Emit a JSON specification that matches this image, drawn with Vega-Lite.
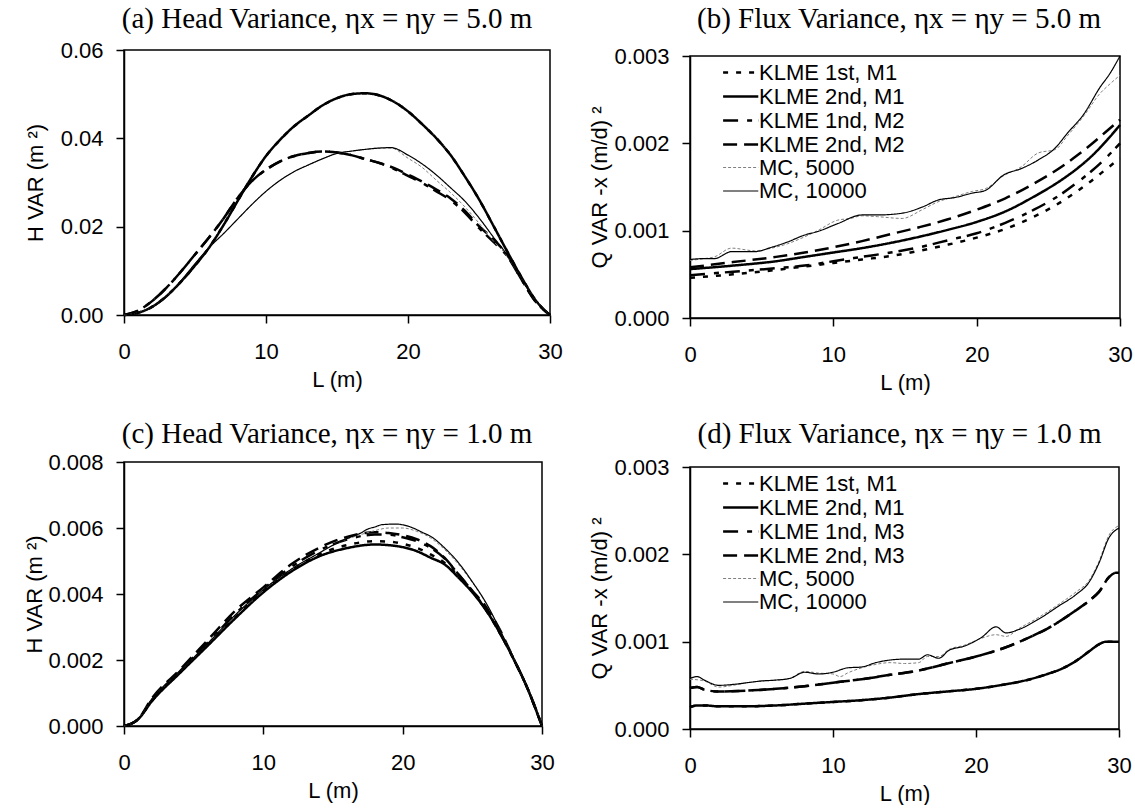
{
"$schema": "https://vega.github.io/schema/vega-lite/v6.json",
"padding": {"top": 4, "left": 23, "right": 0, "bottom": 0},
"spacing": 25,
"resolve": {"scale": {"x": "independent", "y": "independent", "color": "independent", "strokeDash": "independent", "strokeWidth": "independent"}, "legend": {"color": "independent", "strokeDash": "independent", "strokeWidth": "independent"}},
"config": {
  "view": {"stroke": "black", "strokeWidth": 1.5},
  "axis": {"domainColor": "black", "domainWidth": 1.5, "tickColor": "black", "tickWidth": 1.5, "tickSize": 8, "labelFont": "Liberation Sans", "labelFontSize": 22, "labelColor": "black", "titleFont": "Liberation Sans", "titleFontSize": 22, "titleFontWeight": "normal", "titleColor": "black", "grid": false, "labelFlush": false, "labelOverlap": false},
  "axisX": {"labelPadding": 18, "titlePadding": 7},
  "axisY": {"labelPadding": 13, "titlePadding": 10},
  "title": {"font": "Liberation Serif", "fontSize": 29, "fontWeight": "normal", "color": "black", "anchor": "middle", "baseline": "alphabetic"},
  "legend": {"orient": "none", "legendX": 36, "legendY": 4, "labelFont": "Liberation Sans", "labelFontSize": 22, "labelColor": "black", "labelOffset": 8, "rowPadding": -1, "padding": 0, "labelLimit": 400}
},
"datasets": {
"blank": [{"k": ""}],
"a": [
{"L":0,"v":0,"s":"KLME 1st, M1"},{"L":1,"v":0.0005,"s":"KLME 1st, M1"},{"L":2,"v":0.0019,"s":"KLME 1st, M1"},{"L":3,"v":0.0043,"s":"KLME 1st, M1"},{"L":4,"v":0.0075,"s":"KLME 1st, M1"},{"L":5,"v":0.0112,"s":"KLME 1st, M1"},{"L":6,"v":0.0153,"s":"KLME 1st, M1"},{"L":7,"v":0.0203,"s":"KLME 1st, M1"},{"L":8,"v":0.0258,"s":"KLME 1st, M1"},{"L":9,"v":0.0312,"s":"KLME 1st, M1"},{"L":10,"v":0.036,"s":"KLME 1st, M1"},{"L":11,"v":0.0397,"s":"KLME 1st, M1"},{"L":12,"v":0.0428,"s":"KLME 1st, M1"},{"L":13,"v":0.0452,"s":"KLME 1st, M1"},{"L":14,"v":0.0475,"s":"KLME 1st, M1"},{"L":15,"v":0.0491,"s":"KLME 1st, M1"},{"L":16,"v":0.05,"s":"KLME 1st, M1"},{"L":17,"v":0.0502,"s":"KLME 1st, M1"},{"L":18,"v":0.0497,"s":"KLME 1st, M1"},{"L":19,"v":0.0483,"s":"KLME 1st, M1"},{"L":20,"v":0.0461,"s":"KLME 1st, M1"},{"L":21,"v":0.0432,"s":"KLME 1st, M1"},{"L":22,"v":0.04,"s":"KLME 1st, M1"},{"L":23,"v":0.0362,"s":"KLME 1st, M1"},{"L":24,"v":0.0314,"s":"KLME 1st, M1"},{"L":25,"v":0.0262,"s":"KLME 1st, M1"},{"L":26,"v":0.0203,"s":"KLME 1st, M1"},{"L":27,"v":0.0143,"s":"KLME 1st, M1"},{"L":28,"v":0.0085,"s":"KLME 1st, M1"},{"L":29,"v":0.0033,"s":"KLME 1st, M1"},{"L":30,"v":0,"s":"KLME 1st, M1"},
{"L":0,"v":0,"s":"KLME 2nd, M1"},{"L":1,"v":0.0005,"s":"KLME 2nd, M1"},{"L":2,"v":0.0019,"s":"KLME 2nd, M1"},{"L":3,"v":0.0043,"s":"KLME 2nd, M1"},{"L":4,"v":0.0075,"s":"KLME 2nd, M1"},{"L":5,"v":0.0112,"s":"KLME 2nd, M1"},{"L":6,"v":0.0153,"s":"KLME 2nd, M1"},{"L":7,"v":0.0203,"s":"KLME 2nd, M1"},{"L":8,"v":0.0258,"s":"KLME 2nd, M1"},{"L":9,"v":0.0312,"s":"KLME 2nd, M1"},{"L":10,"v":0.036,"s":"KLME 2nd, M1"},{"L":11,"v":0.0397,"s":"KLME 2nd, M1"},{"L":12,"v":0.0428,"s":"KLME 2nd, M1"},{"L":13,"v":0.0452,"s":"KLME 2nd, M1"},{"L":14,"v":0.0475,"s":"KLME 2nd, M1"},{"L":15,"v":0.0491,"s":"KLME 2nd, M1"},{"L":16,"v":0.05,"s":"KLME 2nd, M1"},{"L":17,"v":0.0502,"s":"KLME 2nd, M1"},{"L":18,"v":0.0497,"s":"KLME 2nd, M1"},{"L":19,"v":0.0483,"s":"KLME 2nd, M1"},{"L":20,"v":0.0461,"s":"KLME 2nd, M1"},{"L":21,"v":0.0432,"s":"KLME 2nd, M1"},{"L":22,"v":0.04,"s":"KLME 2nd, M1"},{"L":23,"v":0.0362,"s":"KLME 2nd, M1"},{"L":24,"v":0.0314,"s":"KLME 2nd, M1"},{"L":25,"v":0.0262,"s":"KLME 2nd, M1"},{"L":26,"v":0.0203,"s":"KLME 2nd, M1"},{"L":27,"v":0.0143,"s":"KLME 2nd, M1"},{"L":28,"v":0.0085,"s":"KLME 2nd, M1"},{"L":29,"v":0.0033,"s":"KLME 2nd, M1"},{"L":30,"v":0,"s":"KLME 2nd, M1"},
{"L":0,"v":0,"s":"KLME 1nd, M2"},{"L":1,"v":0.001,"s":"KLME 1nd, M2"},{"L":2,"v":0.0032,"s":"KLME 1nd, M2"},{"L":3,"v":0.0062,"s":"KLME 1nd, M2"},{"L":4,"v":0.0098,"s":"KLME 1nd, M2"},{"L":5,"v":0.0137,"s":"KLME 1nd, M2"},{"L":6,"v":0.0176,"s":"KLME 1nd, M2"},{"L":7,"v":0.0218,"s":"KLME 1nd, M2"},{"L":8,"v":0.0265,"s":"KLME 1nd, M2"},{"L":9,"v":0.0303,"s":"KLME 1nd, M2"},{"L":10,"v":0.0329,"s":"KLME 1nd, M2"},{"L":11,"v":0.0348,"s":"KLME 1nd, M2"},{"L":12,"v":0.036,"s":"KLME 1nd, M2"},{"L":13,"v":0.0367,"s":"KLME 1nd, M2"},{"L":14,"v":0.037,"s":"KLME 1nd, M2"},{"L":15,"v":0.0368,"s":"KLME 1nd, M2"},{"L":16,"v":0.0362,"s":"KLME 1nd, M2"},{"L":17,"v":0.0353,"s":"KLME 1nd, M2"},{"L":18,"v":0.0344,"s":"KLME 1nd, M2"},{"L":19,"v":0.0331,"s":"KLME 1nd, M2"},{"L":20,"v":0.0315,"s":"KLME 1nd, M2"},{"L":21,"v":0.0299,"s":"KLME 1nd, M2"},{"L":22,"v":0.028,"s":"KLME 1nd, M2"},{"L":23,"v":0.026,"s":"KLME 1nd, M2"},{"L":24,"v":0.0232,"s":"KLME 1nd, M2"},{"L":25,"v":0.0197,"s":"KLME 1nd, M2"},{"L":26,"v":0.0166,"s":"KLME 1nd, M2"},{"L":27,"v":0.0133,"s":"KLME 1nd, M2"},{"L":28,"v":0.008,"s":"KLME 1nd, M2"},{"L":29,"v":0.003,"s":"KLME 1nd, M2"},{"L":30,"v":0,"s":"KLME 1nd, M2"},
{"L":0,"v":0,"s":"KLME 2nd, M2"},{"L":1,"v":0.001,"s":"KLME 2nd, M2"},{"L":2,"v":0.0032,"s":"KLME 2nd, M2"},{"L":3,"v":0.0062,"s":"KLME 2nd, M2"},{"L":4,"v":0.0098,"s":"KLME 2nd, M2"},{"L":5,"v":0.0137,"s":"KLME 2nd, M2"},{"L":6,"v":0.0176,"s":"KLME 2nd, M2"},{"L":7,"v":0.0218,"s":"KLME 2nd, M2"},{"L":8,"v":0.0265,"s":"KLME 2nd, M2"},{"L":9,"v":0.0303,"s":"KLME 2nd, M2"},{"L":10,"v":0.0329,"s":"KLME 2nd, M2"},{"L":11,"v":0.0348,"s":"KLME 2nd, M2"},{"L":12,"v":0.036,"s":"KLME 2nd, M2"},{"L":13,"v":0.0367,"s":"KLME 2nd, M2"},{"L":14,"v":0.037,"s":"KLME 2nd, M2"},{"L":15,"v":0.0368,"s":"KLME 2nd, M2"},{"L":16,"v":0.0362,"s":"KLME 2nd, M2"},{"L":17,"v":0.0353,"s":"KLME 2nd, M2"},{"L":18,"v":0.0344,"s":"KLME 2nd, M2"},{"L":19,"v":0.0333,"s":"KLME 2nd, M2"},{"L":20,"v":0.0318,"s":"KLME 2nd, M2"},{"L":21,"v":0.0302,"s":"KLME 2nd, M2"},{"L":22,"v":0.0284,"s":"KLME 2nd, M2"},{"L":23,"v":0.0264,"s":"KLME 2nd, M2"},{"L":24,"v":0.0236,"s":"KLME 2nd, M2"},{"L":25,"v":0.0201,"s":"KLME 2nd, M2"},{"L":26,"v":0.0172,"s":"KLME 2nd, M2"},{"L":27,"v":0.0135,"s":"KLME 2nd, M2"},{"L":28,"v":0.008,"s":"KLME 2nd, M2"},{"L":29,"v":0.003,"s":"KLME 2nd, M2"},{"L":30,"v":0,"s":"KLME 2nd, M2"},
{"L":0,"v":0,"s":"MC, 5000"},{"L":1,"v":0.0005,"s":"MC, 5000"},{"L":2,"v":0.0018,"s":"MC, 5000"},{"L":3,"v":0.0041,"s":"MC, 5000"},{"L":4,"v":0.0077,"s":"MC, 5000"},{"L":5,"v":0.0116,"s":"MC, 5000"},{"L":6,"v":0.0153,"s":"MC, 5000"},{"L":7,"v":0.0184,"s":"MC, 5000"},{"L":8,"v":0.0217,"s":"MC, 5000"},{"L":9,"v":0.025,"s":"MC, 5000"},{"L":10,"v":0.028,"s":"MC, 5000"},{"L":11,"v":0.0305,"s":"MC, 5000"},{"L":12,"v":0.0325,"s":"MC, 5000"},{"L":13,"v":0.034,"s":"MC, 5000"},{"L":14,"v":0.0354,"s":"MC, 5000"},{"L":15,"v":0.0366,"s":"MC, 5000"},{"L":16,"v":0.0371,"s":"MC, 5000"},{"L":17,"v":0.0375,"s":"MC, 5000"},{"L":18,"v":0.0378,"s":"MC, 5000"},{"L":18.8,"v":0.0378,"s":"MC, 5000"},{"L":20,"v":0.0355,"s":"MC, 5000"},{"L":21,"v":0.0334,"s":"MC, 5000"},{"L":22,"v":0.0305,"s":"MC, 5000"},{"L":23,"v":0.0277,"s":"MC, 5000"},{"L":24,"v":0.0245,"s":"MC, 5000"},{"L":25,"v":0.0208,"s":"MC, 5000"},{"L":26,"v":0.0168,"s":"MC, 5000"},{"L":27,"v":0.0133,"s":"MC, 5000"},{"L":28,"v":0.0082,"s":"MC, 5000"},{"L":29,"v":0.0032,"s":"MC, 5000"},{"L":30,"v":0,"s":"MC, 5000"},
{"L":0,"v":0,"s":"MC, 10000"},{"L":1,"v":0.0005,"s":"MC, 10000"},{"L":2,"v":0.0018,"s":"MC, 10000"},{"L":3,"v":0.0041,"s":"MC, 10000"},{"L":4,"v":0.0077,"s":"MC, 10000"},{"L":5,"v":0.0116,"s":"MC, 10000"},{"L":6,"v":0.0153,"s":"MC, 10000"},{"L":7,"v":0.0184,"s":"MC, 10000"},{"L":8,"v":0.0217,"s":"MC, 10000"},{"L":9,"v":0.025,"s":"MC, 10000"},{"L":10,"v":0.028,"s":"MC, 10000"},{"L":11,"v":0.0305,"s":"MC, 10000"},{"L":12,"v":0.0325,"s":"MC, 10000"},{"L":13,"v":0.034,"s":"MC, 10000"},{"L":14,"v":0.0354,"s":"MC, 10000"},{"L":15,"v":0.0366,"s":"MC, 10000"},{"L":16,"v":0.0371,"s":"MC, 10000"},{"L":17,"v":0.0375,"s":"MC, 10000"},{"L":18,"v":0.0378,"s":"MC, 10000"},{"L":18.8,"v":0.0379,"s":"MC, 10000"},{"L":20,"v":0.0362,"s":"MC, 10000"},{"L":21,"v":0.0342,"s":"MC, 10000"},{"L":22,"v":0.0317,"s":"MC, 10000"},{"L":23,"v":0.0288,"s":"MC, 10000"},{"L":24,"v":0.0258,"s":"MC, 10000"},{"L":25,"v":0.022,"s":"MC, 10000"},{"L":26,"v":0.0177,"s":"MC, 10000"},{"L":27,"v":0.0135,"s":"MC, 10000"},{"L":28,"v":0.0082,"s":"MC, 10000"},{"L":29,"v":0.0032,"s":"MC, 10000"},{"L":30,"v":0,"s":"MC, 10000"}
],
"b": [
{"L":0,"v":0.00046,"s":"KLME 1st, M1"},{"L":3,"v":0.0005,"s":"KLME 1st, M1"},{"L":6,"v":0.00055,"s":"KLME 1st, M1"},{"L":8,"v":0.00059,"s":"KLME 1st, M1"},{"L":10,"v":0.00063,"s":"KLME 1st, M1"},{"L":12,"v":0.00067,"s":"KLME 1st, M1"},{"L":14,"v":0.00071,"s":"KLME 1st, M1"},{"L":16,"v":0.00077,"s":"KLME 1st, M1"},{"L":18,"v":0.00084,"s":"KLME 1st, M1"},{"L":20,"v":0.00092,"s":"KLME 1st, M1"},{"L":22,"v":0.00102,"s":"KLME 1st, M1"},{"L":24,"v":0.00116,"s":"KLME 1st, M1"},{"L":26,"v":0.00134,"s":"KLME 1st, M1"},{"L":27,"v":0.00145,"s":"KLME 1st, M1"},{"L":28,"v":0.00157,"s":"KLME 1st, M1"},{"L":29,"v":0.0017,"s":"KLME 1st, M1"},{"L":30,"v":0.00183,"s":"KLME 1st, M1"},
{"L":0,"v":0.00056,"s":"KLME 2nd, M1"},{"L":3,"v":0.0006,"s":"KLME 2nd, M1"},{"L":6,"v":0.00065,"s":"KLME 2nd, M1"},{"L":8,"v":0.0007,"s":"KLME 2nd, M1"},{"L":10,"v":0.00075,"s":"KLME 2nd, M1"},{"L":12,"v":0.0008,"s":"KLME 2nd, M1"},{"L":14,"v":0.00086,"s":"KLME 2nd, M1"},{"L":16,"v":0.00093,"s":"KLME 2nd, M1"},{"L":18,"v":0.00101,"s":"KLME 2nd, M1"},{"L":20,"v":0.0011,"s":"KLME 2nd, M1"},{"L":22,"v":0.00122,"s":"KLME 2nd, M1"},{"L":24,"v":0.00139,"s":"KLME 2nd, M1"},{"L":26,"v":0.00159,"s":"KLME 2nd, M1"},{"L":27,"v":0.00171,"s":"KLME 2nd, M1"},{"L":28,"v":0.00185,"s":"KLME 2nd, M1"},{"L":29,"v":0.00202,"s":"KLME 2nd, M1"},{"L":30,"v":0.00221,"s":"KLME 2nd, M1"},
{"L":0,"v":0.00049,"s":"KLME 1nd, M2"},{"L":3,"v":0.00053,"s":"KLME 1nd, M2"},{"L":6,"v":0.00057,"s":"KLME 1nd, M2"},{"L":8,"v":0.0006,"s":"KLME 1nd, M2"},{"L":10,"v":0.00065,"s":"KLME 1nd, M2"},{"L":12,"v":0.0007,"s":"KLME 1nd, M2"},{"L":14,"v":0.00075,"s":"KLME 1nd, M2"},{"L":16,"v":0.00081,"s":"KLME 1nd, M2"},{"L":18,"v":0.00089,"s":"KLME 1nd, M2"},{"L":20,"v":0.00097,"s":"KLME 1nd, M2"},{"L":22,"v":0.00109,"s":"KLME 1nd, M2"},{"L":24,"v":0.00124,"s":"KLME 1nd, M2"},{"L":26,"v":0.00143,"s":"KLME 1nd, M2"},{"L":27,"v":0.00155,"s":"KLME 1nd, M2"},{"L":28,"v":0.00168,"s":"KLME 1nd, M2"},{"L":29,"v":0.00183,"s":"KLME 1nd, M2"},{"L":30,"v":0.002,"s":"KLME 1nd, M2"},
{"L":0,"v":0.00058,"s":"KLME 2nd, M2"},{"L":3,"v":0.00064,"s":"KLME 2nd, M2"},{"L":6,"v":0.0007,"s":"KLME 2nd, M2"},{"L":8,"v":0.00075,"s":"KLME 2nd, M2"},{"L":10,"v":0.00081,"s":"KLME 2nd, M2"},{"L":12,"v":0.00088,"s":"KLME 2nd, M2"},{"L":14,"v":0.00096,"s":"KLME 2nd, M2"},{"L":16,"v":0.00104,"s":"KLME 2nd, M2"},{"L":18,"v":0.00113,"s":"KLME 2nd, M2"},{"L":20,"v":0.00124,"s":"KLME 2nd, M2"},{"L":22,"v":0.00137,"s":"KLME 2nd, M2"},{"L":24,"v":0.00154,"s":"KLME 2nd, M2"},{"L":26,"v":0.00174,"s":"KLME 2nd, M2"},{"L":27,"v":0.00186,"s":"KLME 2nd, M2"},{"L":28,"v":0.00199,"s":"KLME 2nd, M2"},{"L":29,"v":0.00213,"s":"KLME 2nd, M2"},{"L":30,"v":0.00227,"s":"KLME 2nd, M2"},
{"L":0,"v":0.00066,"s":"MC, 5000"},{"L":1,"v":0.00068,"s":"MC, 5000"},{"L":1.7,"v":0.0007,"s":"MC, 5000"},{"L":2.9,"v":0.0008,"s":"MC, 5000"},{"L":4.5,"v":0.00077,"s":"MC, 5000"},{"L":5.7,"v":0.0008,"s":"MC, 5000"},{"L":6.8,"v":0.00085,"s":"MC, 5000"},{"L":8,"v":0.00093,"s":"MC, 5000"},{"L":8.9,"v":0.001,"s":"MC, 5000"},{"L":10.3,"v":0.00112,"s":"MC, 5000"},{"L":11.2,"v":0.00114,"s":"MC, 5000"},{"L":12,"v":0.00117,"s":"MC, 5000"},{"L":13.1,"v":0.00116,"s":"MC, 5000"},{"L":14.8,"v":0.00114,"s":"MC, 5000"},{"L":16.2,"v":0.00124,"s":"MC, 5000"},{"L":17.3,"v":0.00133,"s":"MC, 5000"},{"L":18.5,"v":0.00139,"s":"MC, 5000"},{"L":19.7,"v":0.00145,"s":"MC, 5000"},{"L":20.6,"v":0.00148,"s":"MC, 5000"},{"L":21.9,"v":0.00163,"s":"MC, 5000"},{"L":23.1,"v":0.00173,"s":"MC, 5000"},{"L":24.3,"v":0.00189,"s":"MC, 5000"},{"L":25.5,"v":0.00193,"s":"MC, 5000"},{"L":26.3,"v":0.00208,"s":"MC, 5000"},{"L":27.5,"v":0.00232,"s":"MC, 5000"},{"L":28.6,"v":0.00257,"s":"MC, 5000"},{"L":29.3,"v":0.00268,"s":"MC, 5000"},{"L":30,"v":0.00278,"s":"MC, 5000"},
{"L":0,"v":0.00067,"s":"MC, 10000"},{"L":1,"v":0.00068,"s":"MC, 10000"},{"L":1.7,"v":0.00068,"s":"MC, 10000"},{"L":2.9,"v":0.00076,"s":"MC, 10000"},{"L":4.5,"v":0.00076,"s":"MC, 10000"},{"L":5.7,"v":0.00081,"s":"MC, 10000"},{"L":6.8,"v":0.00087,"s":"MC, 10000"},{"L":8,"v":0.00095,"s":"MC, 10000"},{"L":8.9,"v":0.00099,"s":"MC, 10000"},{"L":10.3,"v":0.00108,"s":"MC, 10000"},{"L":12,"v":0.00118,"s":"MC, 10000"},{"L":13.1,"v":0.00118,"s":"MC, 10000"},{"L":14.8,"v":0.0012,"s":"MC, 10000"},{"L":16.2,"v":0.00127,"s":"MC, 10000"},{"L":17.3,"v":0.00135,"s":"MC, 10000"},{"L":18.5,"v":0.00138,"s":"MC, 10000"},{"L":19.7,"v":0.00143,"s":"MC, 10000"},{"L":20.6,"v":0.00146,"s":"MC, 10000"},{"L":21.9,"v":0.00164,"s":"MC, 10000"},{"L":23.1,"v":0.00171,"s":"MC, 10000"},{"L":24.3,"v":0.00181,"s":"MC, 10000"},{"L":25.5,"v":0.00195,"s":"MC, 10000"},{"L":26.3,"v":0.00211,"s":"MC, 10000"},{"L":27.5,"v":0.00234,"s":"MC, 10000"},{"L":28.6,"v":0.00264,"s":"MC, 10000"},{"L":29.3,"v":0.0028,"s":"MC, 10000"},{"L":30,"v":0.003,"s":"MC, 10000"}
],
"c": [
{"L":0,"v":0,"s":"KLME 1st, M1"},{"L":1,"v":0.0002,"s":"KLME 1st, M1"},{"L":2,"v":0.00076,"s":"KLME 1st, M1"},{"L":4,"v":0.00162,"s":"KLME 1st, M1"},{"L":6,"v":0.00245,"s":"KLME 1st, M1"},{"L":8,"v":0.0033,"s":"KLME 1st, M1"},{"L":10,"v":0.00408,"s":"KLME 1st, M1"},{"L":12,"v":0.00472,"s":"KLME 1st, M1"},{"L":14,"v":0.0052,"s":"KLME 1st, M1"},{"L":16,"v":0.00548,"s":"KLME 1st, M1"},{"L":18,"v":0.0056,"s":"KLME 1st, M1"},{"L":19,"v":0.00559,"s":"KLME 1st, M1"},{"L":20,"v":0.00552,"s":"KLME 1st, M1"},{"L":21,"v":0.0054,"s":"KLME 1st, M1"},{"L":22,"v":0.0052,"s":"KLME 1st, M1"},{"L":23,"v":0.00495,"s":"KLME 1st, M1"},{"L":24,"v":0.00455,"s":"KLME 1st, M1"},{"L":25,"v":0.00408,"s":"KLME 1st, M1"},{"L":26,"v":0.00352,"s":"KLME 1st, M1"},{"L":27,"v":0.0028,"s":"KLME 1st, M1"},{"L":28,"v":0.002,"s":"KLME 1st, M1"},{"L":29,"v":0.0011,"s":"KLME 1st, M1"},{"L":29.6,"v":0.00045,"s":"KLME 1st, M1"},{"L":30,"v":0,"s":"KLME 1st, M1"},
{"L":0,"v":0,"s":"KLME 2nd, M1"},{"L":1,"v":0.0002,"s":"KLME 2nd, M1"},{"L":2,"v":0.00075,"s":"KLME 2nd, M1"},{"L":4,"v":0.0016,"s":"KLME 2nd, M1"},{"L":6,"v":0.00243,"s":"KLME 2nd, M1"},{"L":8,"v":0.00327,"s":"KLME 2nd, M1"},{"L":10,"v":0.00405,"s":"KLME 2nd, M1"},{"L":12,"v":0.00468,"s":"KLME 2nd, M1"},{"L":14,"v":0.00514,"s":"KLME 2nd, M1"},{"L":16,"v":0.00539,"s":"KLME 2nd, M1"},{"L":18,"v":0.0055,"s":"KLME 2nd, M1"},{"L":19,"v":0.00548,"s":"KLME 2nd, M1"},{"L":20,"v":0.00542,"s":"KLME 2nd, M1"},{"L":21,"v":0.0053,"s":"KLME 2nd, M1"},{"L":22,"v":0.0051,"s":"KLME 2nd, M1"},{"L":23,"v":0.0049,"s":"KLME 2nd, M1"},{"L":24,"v":0.0045,"s":"KLME 2nd, M1"},{"L":25,"v":0.00405,"s":"KLME 2nd, M1"},{"L":26,"v":0.0035,"s":"KLME 2nd, M1"},{"L":27,"v":0.0028,"s":"KLME 2nd, M1"},{"L":28,"v":0.002,"s":"KLME 2nd, M1"},{"L":29,"v":0.0011,"s":"KLME 2nd, M1"},{"L":29.6,"v":0.00045,"s":"KLME 2nd, M1"},{"L":30,"v":0,"s":"KLME 2nd, M1"},
{"L":0,"v":0,"s":"KLME 1nd, M3"},{"L":1,"v":0.0002,"s":"KLME 1nd, M3"},{"L":2,"v":0.00078,"s":"KLME 1nd, M3"},{"L":4,"v":0.00165,"s":"KLME 1nd, M3"},{"L":6,"v":0.00252,"s":"KLME 1nd, M3"},{"L":8,"v":0.0034,"s":"KLME 1nd, M3"},{"L":10,"v":0.00415,"s":"KLME 1nd, M3"},{"L":12,"v":0.00482,"s":"KLME 1nd, M3"},{"L":14,"v":0.00532,"s":"KLME 1nd, M3"},{"L":16,"v":0.00565,"s":"KLME 1nd, M3"},{"L":18,"v":0.0058,"s":"KLME 1nd, M3"},{"L":19,"v":0.0058,"s":"KLME 1nd, M3"},{"L":20,"v":0.00572,"s":"KLME 1nd, M3"},{"L":21,"v":0.0056,"s":"KLME 1nd, M3"},{"L":22,"v":0.0054,"s":"KLME 1nd, M3"},{"L":23,"v":0.00508,"s":"KLME 1nd, M3"},{"L":24,"v":0.0046,"s":"KLME 1nd, M3"},{"L":25,"v":0.00408,"s":"KLME 1nd, M3"},{"L":26,"v":0.0035,"s":"KLME 1nd, M3"},{"L":27,"v":0.0028,"s":"KLME 1nd, M3"},{"L":28,"v":0.002,"s":"KLME 1nd, M3"},{"L":29,"v":0.0011,"s":"KLME 1nd, M3"},{"L":29.6,"v":0.00045,"s":"KLME 1nd, M3"},{"L":30,"v":0,"s":"KLME 1nd, M3"},
{"L":0,"v":0,"s":"KLME 2nd, M3"},{"L":1,"v":0.0002,"s":"KLME 2nd, M3"},{"L":2,"v":0.00084,"s":"KLME 2nd, M3"},{"L":4,"v":0.0017,"s":"KLME 2nd, M3"},{"L":6,"v":0.0026,"s":"KLME 2nd, M3"},{"L":8,"v":0.0035,"s":"KLME 2nd, M3"},{"L":10,"v":0.0042,"s":"KLME 2nd, M3"},{"L":12,"v":0.0049,"s":"KLME 2nd, M3"},{"L":14,"v":0.0054,"s":"KLME 2nd, M3"},{"L":16,"v":0.00573,"s":"KLME 2nd, M3"},{"L":18,"v":0.00587,"s":"KLME 2nd, M3"},{"L":19,"v":0.00585,"s":"KLME 2nd, M3"},{"L":20,"v":0.00578,"s":"KLME 2nd, M3"},{"L":21,"v":0.00566,"s":"KLME 2nd, M3"},{"L":22,"v":0.00545,"s":"KLME 2nd, M3"},{"L":23,"v":0.0051,"s":"KLME 2nd, M3"},{"L":24,"v":0.0046,"s":"KLME 2nd, M3"},{"L":25,"v":0.0041,"s":"KLME 2nd, M3"},{"L":26,"v":0.0036,"s":"KLME 2nd, M3"},{"L":27,"v":0.0029,"s":"KLME 2nd, M3"},{"L":28,"v":0.002,"s":"KLME 2nd, M3"},{"L":29,"v":0.0011,"s":"KLME 2nd, M3"},{"L":29.6,"v":0.00047,"s":"KLME 2nd, M3"},{"L":30,"v":0,"s":"KLME 2nd, M3"},
{"L":0,"v":0,"s":"MC, 5000"},{"L":1,"v":0.0002,"s":"MC, 5000"},{"L":2,"v":0.00082,"s":"MC, 5000"},{"L":4,"v":0.00165,"s":"MC, 5000"},{"L":6,"v":0.0025,"s":"MC, 5000"},{"L":8,"v":0.00337,"s":"MC, 5000"},{"L":10,"v":0.00413,"s":"MC, 5000"},{"L":12,"v":0.00475,"s":"MC, 5000"},{"L":14,"v":0.00524,"s":"MC, 5000"},{"L":15,"v":0.00548,"s":"MC, 5000"},{"L":16,"v":0.00566,"s":"MC, 5000"},{"L":17,"v":0.0058,"s":"MC, 5000"},{"L":18,"v":0.00592,"s":"MC, 5000"},{"L":19,"v":0.006,"s":"MC, 5000"},{"L":20,"v":0.006,"s":"MC, 5000"},{"L":21,"v":0.0059,"s":"MC, 5000"},{"L":22,"v":0.0057,"s":"MC, 5000"},{"L":23,"v":0.00535,"s":"MC, 5000"},{"L":24,"v":0.0049,"s":"MC, 5000"},{"L":25,"v":0.00435,"s":"MC, 5000"},{"L":26,"v":0.0037,"s":"MC, 5000"},{"L":27,"v":0.0029,"s":"MC, 5000"},{"L":28,"v":0.002,"s":"MC, 5000"},{"L":29,"v":0.0011,"s":"MC, 5000"},{"L":29.6,"v":0.00049,"s":"MC, 5000"},{"L":30,"v":0,"s":"MC, 5000"},
{"L":0,"v":0,"s":"MC, 10000"},{"L":1,"v":0.0002,"s":"MC, 10000"},{"L":2,"v":0.00082,"s":"MC, 10000"},{"L":4,"v":0.00165,"s":"MC, 10000"},{"L":6,"v":0.0025,"s":"MC, 10000"},{"L":8,"v":0.00337,"s":"MC, 10000"},{"L":10,"v":0.00413,"s":"MC, 10000"},{"L":12,"v":0.00475,"s":"MC, 10000"},{"L":14,"v":0.00524,"s":"MC, 10000"},{"L":15,"v":0.00548,"s":"MC, 10000"},{"L":16,"v":0.00568,"s":"MC, 10000"},{"L":17,"v":0.00585,"s":"MC, 10000"},{"L":17.5,"v":0.00597,"s":"MC, 10000"},{"L":18,"v":0.00603,"s":"MC, 10000"},{"L":18.5,"v":0.0061,"s":"MC, 10000"},{"L":19.5,"v":0.00612,"s":"MC, 10000"},{"L":20.5,"v":0.00604,"s":"MC, 10000"},{"L":21.5,"v":0.00585,"s":"MC, 10000"},{"L":22,"v":0.00575,"s":"MC, 10000"},{"L":23,"v":0.0054,"s":"MC, 10000"},{"L":24,"v":0.00495,"s":"MC, 10000"},{"L":25,"v":0.00437,"s":"MC, 10000"},{"L":26,"v":0.00372,"s":"MC, 10000"},{"L":27,"v":0.0029,"s":"MC, 10000"},{"L":28,"v":0.002,"s":"MC, 10000"},{"L":29,"v":0.0011,"s":"MC, 10000"},{"L":29.6,"v":0.00049,"s":"MC, 10000"},{"L":30,"v":0,"s":"MC, 10000"}
],
"d": [
{"L":0,"v":0.00025,"s":"KLME 1st, M1"},{"L":0.5,"v":0.00027,"s":"KLME 1st, M1"},{"L":1,"v":0.00027,"s":"KLME 1st, M1"},{"L":2,"v":0.00026,"s":"KLME 1st, M1"},{"L":4,"v":0.00026,"s":"KLME 1st, M1"},{"L":6,"v":0.00027,"s":"KLME 1st, M1"},{"L":8,"v":0.00029,"s":"KLME 1st, M1"},{"L":10,"v":0.00031,"s":"KLME 1st, M1"},{"L":12,"v":0.00033,"s":"KLME 1st, M1"},{"L":14,"v":0.00036,"s":"KLME 1st, M1"},{"L":16,"v":0.0004,"s":"KLME 1st, M1"},{"L":18,"v":0.00043,"s":"KLME 1st, M1"},{"L":20,"v":0.00046,"s":"KLME 1st, M1"},{"L":22,"v":0.00051,"s":"KLME 1st, M1"},{"L":23,"v":0.00054,"s":"KLME 1st, M1"},{"L":24,"v":0.00058,"s":"KLME 1st, M1"},{"L":25,"v":0.00063,"s":"KLME 1st, M1"},{"L":26,"v":0.00069,"s":"KLME 1st, M1"},{"L":27,"v":0.00078,"s":"KLME 1st, M1"},{"L":28,"v":0.0009,"s":"KLME 1st, M1"},{"L":28.6,"v":0.00097,"s":"KLME 1st, M1"},{"L":29.1,"v":0.001,"s":"KLME 1st, M1"},{"L":30,"v":0.001,"s":"KLME 1st, M1"},
{"L":0,"v":0.00025,"s":"KLME 2nd, M1"},{"L":0.5,"v":0.00027,"s":"KLME 2nd, M1"},{"L":1,"v":0.00027,"s":"KLME 2nd, M1"},{"L":2,"v":0.00026,"s":"KLME 2nd, M1"},{"L":4,"v":0.00026,"s":"KLME 2nd, M1"},{"L":6,"v":0.00027,"s":"KLME 2nd, M1"},{"L":8,"v":0.00029,"s":"KLME 2nd, M1"},{"L":10,"v":0.00031,"s":"KLME 2nd, M1"},{"L":12,"v":0.00033,"s":"KLME 2nd, M1"},{"L":14,"v":0.00036,"s":"KLME 2nd, M1"},{"L":16,"v":0.0004,"s":"KLME 2nd, M1"},{"L":18,"v":0.00043,"s":"KLME 2nd, M1"},{"L":20,"v":0.00046,"s":"KLME 2nd, M1"},{"L":22,"v":0.00051,"s":"KLME 2nd, M1"},{"L":23,"v":0.00054,"s":"KLME 2nd, M1"},{"L":24,"v":0.00058,"s":"KLME 2nd, M1"},{"L":25,"v":0.00063,"s":"KLME 2nd, M1"},{"L":26,"v":0.00069,"s":"KLME 2nd, M1"},{"L":27,"v":0.00078,"s":"KLME 2nd, M1"},{"L":28,"v":0.0009,"s":"KLME 2nd, M1"},{"L":28.6,"v":0.00097,"s":"KLME 2nd, M1"},{"L":29.1,"v":0.001,"s":"KLME 2nd, M1"},{"L":30,"v":0.001,"s":"KLME 2nd, M1"},
{"L":0,"v":0.00047,"s":"KLME 1nd, M3"},{"L":0.5,"v":0.00048,"s":"KLME 1nd, M3"},{"L":1,"v":0.00045,"s":"KLME 1nd, M3"},{"L":2,"v":0.00043,"s":"KLME 1nd, M3"},{"L":4,"v":0.00044,"s":"KLME 1nd, M3"},{"L":6,"v":0.00046,"s":"KLME 1nd, M3"},{"L":8,"v":0.00049,"s":"KLME 1nd, M3"},{"L":10,"v":0.00053,"s":"KLME 1nd, M3"},{"L":12,"v":0.00057,"s":"KLME 1nd, M3"},{"L":14,"v":0.00062,"s":"KLME 1nd, M3"},{"L":16,"v":0.00067,"s":"KLME 1nd, M3"},{"L":18,"v":0.00075,"s":"KLME 1nd, M3"},{"L":20,"v":0.00083,"s":"KLME 1nd, M3"},{"L":22,"v":0.00093,"s":"KLME 1nd, M3"},{"L":24,"v":0.00107,"s":"KLME 1nd, M3"},{"L":25,"v":0.00115,"s":"KLME 1nd, M3"},{"L":26,"v":0.00125,"s":"KLME 1nd, M3"},{"L":27,"v":0.00136,"s":"KLME 1nd, M3"},{"L":28,"v":0.00148,"s":"KLME 1nd, M3"},{"L":28.6,"v":0.00157,"s":"KLME 1nd, M3"},{"L":29.3,"v":0.00174,"s":"KLME 1nd, M3"},{"L":29.8,"v":0.00179,"s":"KLME 1nd, M3"},{"L":30,"v":0.00179,"s":"KLME 1nd, M3"},
{"L":0,"v":0.00047,"s":"KLME 2nd, M3"},{"L":0.5,"v":0.00048,"s":"KLME 2nd, M3"},{"L":1,"v":0.00045,"s":"KLME 2nd, M3"},{"L":2,"v":0.00043,"s":"KLME 2nd, M3"},{"L":4,"v":0.00044,"s":"KLME 2nd, M3"},{"L":6,"v":0.00046,"s":"KLME 2nd, M3"},{"L":8,"v":0.00049,"s":"KLME 2nd, M3"},{"L":10,"v":0.00053,"s":"KLME 2nd, M3"},{"L":12,"v":0.00057,"s":"KLME 2nd, M3"},{"L":14,"v":0.00062,"s":"KLME 2nd, M3"},{"L":16,"v":0.00067,"s":"KLME 2nd, M3"},{"L":18,"v":0.00075,"s":"KLME 2nd, M3"},{"L":20,"v":0.00083,"s":"KLME 2nd, M3"},{"L":22,"v":0.00093,"s":"KLME 2nd, M3"},{"L":24,"v":0.00107,"s":"KLME 2nd, M3"},{"L":25,"v":0.00115,"s":"KLME 2nd, M3"},{"L":26,"v":0.00125,"s":"KLME 2nd, M3"},{"L":27,"v":0.00136,"s":"KLME 2nd, M3"},{"L":28,"v":0.00148,"s":"KLME 2nd, M3"},{"L":28.6,"v":0.00157,"s":"KLME 2nd, M3"},{"L":29.3,"v":0.00174,"s":"KLME 2nd, M3"},{"L":29.8,"v":0.00179,"s":"KLME 2nd, M3"},{"L":30,"v":0.00179,"s":"KLME 2nd, M3"},
{"L":0,"v":0.00057,"s":"MC, 5000"},{"L":1,"v":0.00055,"s":"MC, 5000"},{"L":2,"v":0.00048,"s":"MC, 5000"},{"L":3,"v":0.0005,"s":"MC, 5000"},{"L":4,"v":0.00053,"s":"MC, 5000"},{"L":5,"v":0.00055,"s":"MC, 5000"},{"L":6,"v":0.00056,"s":"MC, 5000"},{"L":7,"v":0.00058,"s":"MC, 5000"},{"L":8,"v":0.00066,"s":"MC, 5000"},{"L":9,"v":0.00064,"s":"MC, 5000"},{"L":10,"v":0.00063,"s":"MC, 5000"},{"L":10.5,"v":0.0006,"s":"MC, 5000"},{"L":11,"v":0.00064,"s":"MC, 5000"},{"L":12,"v":0.0007,"s":"MC, 5000"},{"L":13,"v":0.00074,"s":"MC, 5000"},{"L":14,"v":0.00076,"s":"MC, 5000"},{"L":15,"v":0.00075,"s":"MC, 5000"},{"L":16,"v":0.00076,"s":"MC, 5000"},{"L":16.6,"v":0.00083,"s":"MC, 5000"},{"L":17.4,"v":0.00083,"s":"MC, 5000"},{"L":18.1,"v":0.00091,"s":"MC, 5000"},{"L":19.2,"v":0.00096,"s":"MC, 5000"},{"L":20.4,"v":0.00104,"s":"MC, 5000"},{"L":21.4,"v":0.00108,"s":"MC, 5000"},{"L":22.1,"v":0.00106,"s":"MC, 5000"},{"L":23,"v":0.00115,"s":"MC, 5000"},{"L":24.4,"v":0.00128,"s":"MC, 5000"},{"L":25.8,"v":0.00143,"s":"MC, 5000"},{"L":27,"v":0.00157,"s":"MC, 5000"},{"L":27.9,"v":0.0017,"s":"MC, 5000"},{"L":28.6,"v":0.00192,"s":"MC, 5000"},{"L":29.3,"v":0.00222,"s":"MC, 5000"},{"L":30,"v":0.00233,"s":"MC, 5000"},
{"L":0,"v":0.00058,"s":"MC, 10000"},{"L":0.5,"v":0.0006,"s":"MC, 10000"},{"L":1,"v":0.00056,"s":"MC, 10000"},{"L":2,"v":0.0005,"s":"MC, 10000"},{"L":3,"v":0.00051,"s":"MC, 10000"},{"L":4,"v":0.00053,"s":"MC, 10000"},{"L":5,"v":0.00055,"s":"MC, 10000"},{"L":6,"v":0.00056,"s":"MC, 10000"},{"L":7,"v":0.00058,"s":"MC, 10000"},{"L":8,"v":0.00065,"s":"MC, 10000"},{"L":9,"v":0.00063,"s":"MC, 10000"},{"L":10,"v":0.00065,"s":"MC, 10000"},{"L":11,"v":0.0007,"s":"MC, 10000"},{"L":12,"v":0.00071,"s":"MC, 10000"},{"L":13,"v":0.00076,"s":"MC, 10000"},{"L":14,"v":0.00079,"s":"MC, 10000"},{"L":15,"v":0.0008,"s":"MC, 10000"},{"L":16,"v":0.0008,"s":"MC, 10000"},{"L":16.6,"v":0.00085,"s":"MC, 10000"},{"L":17.4,"v":0.00081,"s":"MC, 10000"},{"L":18.1,"v":0.0009,"s":"MC, 10000"},{"L":19.2,"v":0.00095,"s":"MC, 10000"},{"L":20.4,"v":0.00105,"s":"MC, 10000"},{"L":21.4,"v":0.00117,"s":"MC, 10000"},{"L":22.1,"v":0.0011,"s":"MC, 10000"},{"L":23,"v":0.00114,"s":"MC, 10000"},{"L":24.4,"v":0.00126,"s":"MC, 10000"},{"L":25.8,"v":0.00141,"s":"MC, 10000"},{"L":27,"v":0.00154,"s":"MC, 10000"},{"L":27.9,"v":0.00168,"s":"MC, 10000"},{"L":28.6,"v":0.0019,"s":"MC, 10000"},{"L":29.3,"v":0.00219,"s":"MC, 10000"},{"L":30,"v":0.0023,"s":"MC, 10000"}
]
},
"hconcat": [
{
 "spacing": 0,
 "resolve": {"scale": {"x": "independent", "y": "independent", "color": "independent", "strokeDash": "independent", "strokeWidth": "independent"}, "legend": {"color": "independent", "strokeDash": "independent", "strokeWidth": "independent"}},
 "vconcat": [
 {
  "data": {"name": "blank"},
  "width": 426, "height": 1,
  "view": {"stroke": null},
  "title": {"text": "(a) Head Variance, ηx = ηy = 5.0 m", "offset": -7, "dx": -10},
  "mark": {"type": "text", "text": ""},
  "encoding": {}
 },
 {
  "spacing": 28,
  "resolve": {"scale": {"x": "independent", "y": "independent", "color": "independent", "strokeDash": "independent", "strokeWidth": "independent"}, "legend": {"color": "independent", "strokeDash": "independent", "strokeWidth": "independent"}},
  "vconcat": [
  {
   "data": {"name": "a"},
   "width": 426, "height": 265,
   "mark": {"type": "line", "interpolate": "monotone"},
   "encoding": {
     "x": {"field": "L", "type": "quantitative", "scale": {"domain": [0, 30], "nice": false}, "axis": {"values": [0, 10, 20, 30], "title": "L (m)"}},
     "y": {"field": "v", "type": "quantitative", "scale": {"domain": [0, 0.06], "nice": false}, "axis": {"values": [0, 0.02, 0.04, 0.06], "format": ".2f", "title": "H VAR (m ²)", "titlePadding": 13}},
     "color": {"field": "s", "type": "nominal", "scale": {"domain": ["KLME 1st, M1", "KLME 2nd, M1", "KLME 1nd, M2", "KLME 2nd, M2", "MC, 5000", "MC, 10000"], "range": ["black", "black", "black", "black", "#808080", "black"]}, "legend": null},
     "strokeDash": {"field": "s", "type": "nominal", "scale": {"domain": ["KLME 1st, M1", "KLME 2nd, M1", "KLME 1nd, M2", "KLME 2nd, M2", "MC, 5000", "MC, 10000"], "range": [[5, 8], [1, 0], [15, 9, 5, 6], [14, 7], [3, 2], [1, 0]]}, "legend": null},
     "strokeWidth": {"field": "s", "type": "nominal", "scale": {"type": "ordinal", "domain": ["KLME 1st, M1", "KLME 2nd, M1", "KLME 1nd, M2", "KLME 2nd, M2", "MC, 5000", "MC, 10000"], "range": [2.5, 2.5, 2.5, 2.5, 1, 1.2]}, "legend": null}
   }
  },
  {
   "data": {"name": "c"},
   "width": 418, "height": 264,
   "title": {"text": "(c) Head Variance, ηx = ηy = 1.0 m", "offset": 2, "dx": -6},
   "mark": {"type": "line", "interpolate": "monotone"},
   "encoding": {
     "x": {"field": "L", "type": "quantitative", "scale": {"domain": [0, 30], "nice": false}, "axis": {"values": [0, 10, 20, 30], "title": "L (m)"}},
     "y": {"field": "v", "type": "quantitative", "scale": {"domain": [0, 0.008], "nice": false}, "axis": {"values": [0, 0.002, 0.004, 0.006, 0.008], "format": ".3f", "title": "H VAR (m ²)", "titlePadding": 1}},
     "color": {"field": "s", "type": "nominal", "scale": {"domain": ["KLME 1st, M1", "KLME 2nd, M1", "KLME 1nd, M3", "KLME 2nd, M3", "MC, 5000", "MC, 10000"], "range": ["black", "black", "black", "black", "#808080", "black"]}, "legend": null},
     "strokeDash": {"field": "s", "type": "nominal", "scale": {"domain": ["KLME 1st, M1", "KLME 2nd, M1", "KLME 1nd, M3", "KLME 2nd, M3", "MC, 5000", "MC, 10000"], "range": [[5, 8], [1, 0], [15, 9, 5, 6], [14, 7], [3, 2], [1, 0]]}, "legend": null},
     "strokeWidth": {"field": "s", "type": "nominal", "scale": {"type": "ordinal", "domain": ["KLME 1st, M1", "KLME 2nd, M1", "KLME 1nd, M3", "KLME 2nd, M3", "MC, 5000", "MC, 10000"], "range": [2.5, 2.5, 2.5, 2.5, 1, 1.2]}, "legend": null}
   }
  }
  ]
 }
 ]
},
{
 "spacing": 6,
 "resolve": {"scale": {"x": "independent", "y": "independent", "color": "independent", "strokeDash": "independent", "strokeWidth": "independent"}, "legend": {"color": "independent", "strokeDash": "independent", "strokeWidth": "independent"}},
 "vconcat": [
 {
  "data": {"name": "blank"},
  "width": 430, "height": 1,
  "view": {"stroke": null},
  "title": {"text": "(b) Flux Variance, ηx = ηy = 5.0 m", "offset": -7, "dx": -6},
  "mark": {"type": "text", "text": ""},
  "encoding": {}
 },
 {
  "spacing": 25,
  "resolve": {"scale": {"x": "independent", "y": "independent", "color": "independent", "strokeDash": "independent", "strokeWidth": "independent"}, "legend": {"color": "independent", "strokeDash": "independent", "strokeWidth": "independent"}},
  "vconcat": [
  {
   "data": {"name": "b"},
   "width": 430, "height": 262,
   "mark": {"type": "line", "interpolate": "monotone"},
   "encoding": {
     "x": {"field": "L", "type": "quantitative", "scale": {"domain": [0, 30], "nice": false}, "axis": {"values": [0, 10, 20, 30], "title": "L (m)"}},
     "y": {"field": "v", "type": "quantitative", "scale": {"domain": [0, 0.003], "nice": false}, "axis": {"values": [0, 0.001, 0.002, 0.003], "format": ".3f", "title": "Q VAR -x (m/d) ²", "titlePadding": 2}},
     "color": {"field": "s", "type": "nominal", "scale": {"domain": ["KLME 1st, M1", "KLME 2nd, M1", "KLME 1nd, M2", "KLME 2nd, M2", "MC, 5000", "MC, 10000"], "range": ["black", "black", "black", "black", "#808080", "black"]}, "legend": {"title": null, "symbolType": "M-1.4,0H1.8", "symbolSize": 484}},
     "strokeDash": {"field": "s", "type": "nominal", "scale": {"domain": ["KLME 1st, M1", "KLME 2nd, M1", "KLME 1nd, M2", "KLME 2nd, M2", "MC, 5000", "MC, 10000"], "range": [[5, 8], [1, 0], [15, 9, 5, 6], [14, 7], [3, 2], [1, 0]]}, "legend": {"title": null, "symbolType": "M-1.4,0H1.8", "symbolSize": 484}},
     "strokeWidth": {"field": "s", "type": "nominal", "scale": {"type": "ordinal", "domain": ["KLME 1st, M1", "KLME 2nd, M1", "KLME 1nd, M2", "KLME 2nd, M2", "MC, 5000", "MC, 10000"], "range": [2.5, 2.5, 2.5, 2.5, 1, 1.2]}, "legend": {"title": null, "symbolType": "M-1.4,0H1.8", "symbolSize": 484}}
   }
  },
  {
   "data": {"name": "d"},
   "width": 429, "height": 262,
   "title": {"text": "(d) Flux Variance, ηx = ηy = 1.0 m", "offset": 7, "dx": -5},
   "mark": {"type": "line", "interpolate": "monotone"},
   "encoding": {
     "x": {"field": "L", "type": "quantitative", "scale": {"domain": [0, 30], "nice": false}, "axis": {"values": [0, 10, 20, 30], "title": "L (m)"}},
     "y": {"field": "v", "type": "quantitative", "scale": {"domain": [0, 0.003], "nice": false}, "axis": {"values": [0, 0.001, 0.002, 0.003], "format": ".3f", "title": "Q VAR -x (m/d) ²", "titlePadding": 2}},
     "color": {"field": "s", "type": "nominal", "scale": {"domain": ["KLME 1st, M1", "KLME 2nd, M1", "KLME 1nd, M3", "KLME 2nd, M3", "MC, 5000", "MC, 10000"], "range": ["black", "black", "black", "black", "#808080", "black"]}, "legend": {"title": null, "symbolType": "M-1.4,0H1.8", "symbolSize": 484}},
     "strokeDash": {"field": "s", "type": "nominal", "scale": {"domain": ["KLME 1st, M1", "KLME 2nd, M1", "KLME 1nd, M3", "KLME 2nd, M3", "MC, 5000", "MC, 10000"], "range": [[5, 8], [1, 0], [15, 9, 5, 6], [14, 7], [3, 2], [1, 0]]}, "legend": {"title": null, "symbolType": "M-1.4,0H1.8", "symbolSize": 484}},
     "strokeWidth": {"field": "s", "type": "nominal", "scale": {"type": "ordinal", "domain": ["KLME 1st, M1", "KLME 2nd, M1", "KLME 1nd, M3", "KLME 2nd, M3", "MC, 5000", "MC, 10000"], "range": [2.5, 2.5, 2.5, 2.5, 1, 1.2]}, "legend": {"title": null, "symbolType": "M-1.4,0H1.8", "symbolSize": 484}}
   }
  }
  ]
 }
 ]
}
]
}
